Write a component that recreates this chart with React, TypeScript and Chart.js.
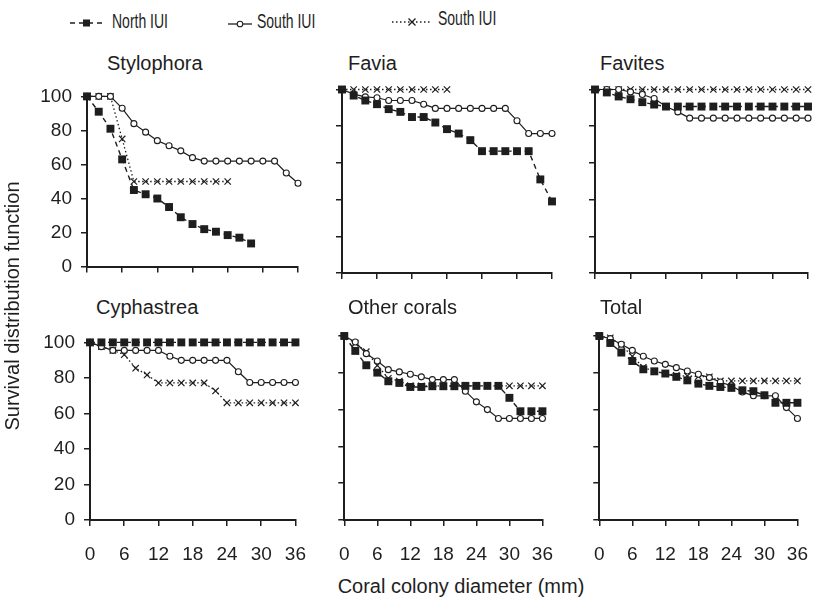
import React, { useEffect, useRef } from 'react';
import { Chart, registerables } from 'chart.js';

Chart.register(...registerables);

const FONT = "'Liberation Sans', Arial, Helvetica, sans-serif";
const INK = '#1e1e1e';

const diameters = [0, 2, 4, 6, 8, 10, 12, 14, 16, 18, 20, 22, 24, 26, 28, 30, 32, 34, 36];
const xTickValues = [0, 6, 12, 18, 24, 30, 36];
const yTickValues = [0, 20, 40, 60, 80, 100];

const seriesNames = ['North IUI', 'South IUI', 'South IUI'];

// Stylophora
const stylophoraNorth = [100, 91, 81, 63, 45, 42.5, 40, 35, 29, 25, 22, 20.5, 18.5, 17, 13.6];
const stylophoraSouth = [100, 100, 100, 93, 84, 79, 74, 71, 68, 64, 62, 62, 62, 62, 62, 62, 62, 55, 49];
const stylophoraSouthX = [100, 100, 100, 75, 50, 50, 50, 50, 50, 50, 50, 50, 50];

// Favia
const faviaNorth = [100, 96.7, 94, 92, 89.3, 87.8, 85, 85, 82, 78.4, 76, 72.4, 66.4, 66.4, 66.4, 66.4, 66.4, 51, 39];
const faviaSouth = [100, 97.5, 96, 95.5, 94, 94, 94, 92, 89.7, 89.7, 89.7, 89.7, 89.7, 89.7, 89.7, 83, 76, 76, 76];
const faviaSouthX = [100, 100, 100, 100, 100, 100, 100, 100, 100, 100];

// Favites
const favitesNorth = [100, 98.4, 96.2, 94.7, 93.1, 91.8, 90.7, 90.7, 90.7, 90.7, 90.7, 90.7, 90.7, 90.7, 90.7, 90.7, 90.7, 90.7, 90.7];
const favitesSouth = [100, 100, 100, 98.7, 97.3, 95.1, 90.7, 87.8, 84.4, 84.4, 84.4, 84.4, 84.4, 84.4, 84.4, 84.4, 84.4, 84.4, 84.4];
const favitesSouthX = [100, 100, 100, 100, 100, 100, 100, 100, 100, 100, 100, 100, 100, 100, 100, 100, 100, 100, 100];

// Cyphastrea
const cyphastreaNorth = [100, 100, 100, 100, 100, 100, 100, 100, 100, 100, 100, 100, 100, 100, 100, 100, 100, 100, 100];
const cyphastreaSouth = [100, 97.6, 95.5, 95.5, 95.5, 95.5, 95.5, 92.2, 89.9, 89.9, 89.9, 89.9, 89.9, 83.5, 77.4, 77.4, 77.4, 77.4, 77.4];
const cyphastreaSouthX = [100, 97.6, 95.5, 93.1, 85.5, 81.7, 77.2, 77.2, 77.2, 77.2, 77.2, 72.7, 66, 66, 66, 66, 66, 66, 66];

// Other corals
const otherNorth = [100, 91.9, 84.1, 80.1, 75.4, 74.5, 72.3, 72.3, 72.7, 72.7, 72.7, 72.9, 72.9, 72.9, 72.9, 66.4, 59.1, 59.1, 59.1];
const otherSouth = [100, 96.7, 90.4, 86.4, 81.7, 80.5, 79.2, 77.8, 76.3, 76.3, 76.3, 70, 64.2, 60, 55.2, 55.2, 55.2, 55.2, 55.2];
const otherSouthX = [100, 96, 91.5, 84, 77, 75.5, 73, 72.9, 72.9, 72.9, 72.9, 72.9, 72.9, 72.9, 72.9, 72.9, 72.9, 72.9, 72.9];

// Total
const totalNorth = [100, 96.2, 91, 86.4, 81.9, 80.8, 79.6, 77.8, 75.9, 74.1, 72.9, 72.3, 71.8, 70.5, 70, 67.8, 63.7, 63.7, 63.7];
const totalSouth = [100, 98.6, 95.5, 92.2, 89, 86.4, 84.6, 82.8, 81, 79.2, 77.4, 75, 72.9, 69.6, 67.5, 67.5, 67.5, 61.1, 55.2];
const totalSouthX = [100, 99, 95, 89, 83, 80.8, 79.6, 78.6, 78.2, 78, 77.8, 75.6, 75.6, 75.6, 75.6, 75.6, 75.6, 75.6, 75.6];

type PanelCfg = {
  title: string;
  north: number[];
  south: number[];
  southX: number[];
  left: number; top: number; right: number; bottom: number;
  showX: boolean; showY: boolean;
  titleX: number; titleY: number;
};

const panels: PanelCfg[] = [
  { title: 'Stylophora', north: stylophoraNorth, south: stylophoraSouth, southX: stylophoraSouthX, left: 87, top: 89.5, right: 298, bottom: 273, showX: false, showY: true, titleX: 107, titleY: 63 },
  { title: 'Favia', north: faviaNorth, south: faviaSouth, southX: faviaSouthX, left: 342, top: 89.5, right: 552, bottom: 273, showX: false, showY: false, titleX: 348, titleY: 63 },
  { title: 'Favites', north: favitesNorth, south: favitesSouth, southX: favitesSouthX, left: 595, top: 89.5, right: 808, bottom: 273, showX: false, showY: false, titleX: 600, titleY: 63 },
  { title: 'Cyphastrea', north: cyphastreaNorth, south: cyphastreaSouth, southX: cyphastreaSouthX, left: 90, top: 336, right: 307, bottom: 520, showX: true, showY: true, titleX: 96, titleY: 307 },
  { title: 'Other corals', north: otherNorth, south: otherSouth, southX: otherSouthX, left: 342, top: 336, right: 554, bottom: 520, showX: true, showY: false, titleX: 348, titleY: 307 },
  { title: 'Total', north: totalNorth, south: totalSouth, southX: totalSouthX, left: 597, top: 336, right: 809, bottom: 520, showX: true, showY: false, titleX: 600, titleY: 307 },
];

function toPoints(vals: number[]) {
  return vals.map((y, i) => ({ x: diameters[i], y }));
}

function Panel({ cfg }: { cfg: PanelCfg }) {
  const ref = useRef<HTMLCanvasElement>(null);
  const padL = cfg.showY ? 70 : 20;
  const padT = 14;
  const padR = 16;
  const padB = cfg.showX ? 52 : 14;
  const cLeft = Math.round(cfg.left - padL);
  const cTop = Math.round(cfg.top - padT);
  const width = Math.round(cfg.right + padR) - cLeft;
  const height = Math.round(cfg.bottom + padB) - cTop;
  const realPadL = cfg.left - cLeft;
  const realPadT = cfg.top - cTop;
  const realPadB = cTop + height - cfg.bottom;
  const realPadR = cLeft + width - cfg.right;

  useEffect(() => {
    if (!ref.current) return;
    const gridOpts = {
      display: true,
      drawOnChartArea: false,
      drawTicks: true,
      tickLength: 6,
      color: INK,
      lineWidth: 1.5,
    };
    const chart = new Chart(ref.current, {
      type: 'line',
      data: {
        datasets: [
          {
            label: seriesNames[0],
            data: toPoints(cfg.north),
            borderColor: INK,
            backgroundColor: INK,
            borderWidth: 1.4,
            borderDash: [5, 4],
            pointStyle: 'rect',
            pointRadius: 5.6,
            pointBorderWidth: 0,
            pointBackgroundColor: INK,
            tension: 0,
            clip: false,
          },
          {
            label: seriesNames[1],
            data: toPoints(cfg.south),
            borderColor: INK,
            backgroundColor: '#ffffff',
            borderWidth: 1.2,
            pointStyle: 'circle',
            pointRadius: 3,
            pointBorderWidth: 1.1,
            pointBackgroundColor: '#ffffff',
            tension: 0,
            clip: false,
          },
          {
            label: seriesNames[2],
            data: toPoints(cfg.southX),
            borderColor: INK,
            backgroundColor: INK,
            borderWidth: 1.3,
            borderDash: [1.5, 2.5],
            pointStyle: 'crossRot',
            pointRadius: 4.5,
            pointBorderWidth: 1.2,
            tension: 0,
            clip: false,
          },
        ],
      },
      options: {
        animation: false,
        responsive: false,
        maintainAspectRatio: false,
        events: [],
        layout: { padding: { top: realPadT, right: realPadR, left: 0, bottom: 0 } },
        plugins: { legend: { display: false }, tooltip: { enabled: false } },
        scales: {
          x: {
            type: 'linear',
            min: 0,
            max: 36,
            afterBuildTicks: (s: any) => { s.ticks = xTickValues.map((v) => ({ value: v })); },
            afterFit: (s: any) => { s.height = realPadB; },
            grid: gridOpts,
            border: { display: true, color: INK, width: 2 },
            ticks: {
              display: cfg.showX,
              padding: 17,
              color: INK,
              maxRotation: 0,
              autoSkip: false,
              font: { family: FONT, size: 19 },
            },
          },
          y: {
            type: 'linear',
            min: 0,
            max: 100,
            afterBuildTicks: (s: any) => { s.ticks = yTickValues.map((v) => ({ value: v })); },
            afterFit: (s: any) => { s.width = realPadL; },
            grid: gridOpts,
            border: { display: true, color: INK, width: 2 },
            ticks: {
              display: cfg.showY,
              padding: 9,
              color: INK,
              autoSkip: false,
              font: { family: FONT, size: 19 },
            },
          },
        },
      } as any,
    });
    return () => chart.destroy();
  }, []);

  return (
    <>
      <canvas
        ref={ref}
        width={width}
        height={height}
        style={{ position: 'absolute', left: cLeft, top: cTop, width, height }}
      />
      <div
        style={{
          position: 'absolute',
          left: cfg.titleX,
          top: cfg.titleY - 12,
          height: 24,
          lineHeight: '24px',
          fontFamily: FONT,
          fontSize: 20,
          color: INK,
          whiteSpace: 'nowrap',
        }}
      >
        {cfg.title}
      </div>
    </>
  );
}

function LegendItem({ kind, x, y, textX, textY, label }: { kind: number; x: number; y: number; textX: number; textY: number; label: string }) {
  let svg: React.ReactNode = null;
  if (kind === 0) {
    svg = (
      <svg width={36} height={14} style={{ position: 'absolute', left: x, top: y - 7 }}>
        <line x1={1} y1={7} x2={35} y2={7} stroke={INK} strokeWidth={1.5} strokeDasharray="5 4" />
        <rect x={14} y={3.5} width={7} height={7} fill={INK} />
      </svg>
    );
  } else if (kind === 1) {
    svg = (
      <svg width={24} height={14} style={{ position: 'absolute', left: x, top: y - 7 }}>
        <line x1={0} y1={7} x2={24} y2={7} stroke={INK} strokeWidth={1.3} />
        <circle cx={12} cy={7} r={2.8} fill="#fff" stroke={INK} strokeWidth={1.1} />
      </svg>
    );
  } else {
    svg = (
      <svg width={40} height={14} style={{ position: 'absolute', left: x, top: y - 7 }}>
        <line x1={0} y1={7} x2={40} y2={7} stroke={INK} strokeWidth={1.3} strokeDasharray="1.5 2.5" />
        <line x1={16.5} y1={3.5} x2={23.5} y2={10.5} stroke={INK} strokeWidth={1.2} />
        <line x1={16.5} y1={10.5} x2={23.5} y2={3.5} stroke={INK} strokeWidth={1.2} />
      </svg>
    );
  }
  return (
    <>
      {svg}
      <div
        style={{
          position: 'absolute',
          left: textX,
          top: textY - 12,
          height: 24,
          lineHeight: '24px',
          fontFamily: FONT,
          fontSize: 20,
          color: INK,
          whiteSpace: 'nowrap',
          transform: 'scaleX(0.7)',
          transformOrigin: 'left center',
        }}
      >
        {label}
      </div>
    </>
  );
}

export default function App() {
  return (
    <div
      style={{
        position: 'absolute',
        left: 0,
        top: 0,
        width: 827,
        height: 598,
        background: '#ffffff',
        overflow: 'hidden',
      }}
    >
      <LegendItem kind={0} x={69} y={23} textX={112} textY={21} label={seriesNames[0]} />
      <LegendItem kind={1} x={228} y={24} textX={257} textY={21} label={seriesNames[1]} />
      <LegendItem kind={2} x={392} y={22} textX={438} textY={18} label={seriesNames[2]} />
      {panels.map((p, i) => (
        <Panel key={i} cfg={p} />
      ))}
      <div
        style={{
          position: 'absolute',
          left: 12 - 200,
          top: 306 - 13,
          width: 400,
          height: 26,
          lineHeight: '26px',
          textAlign: 'center',
          fontFamily: FONT,
          fontSize: 20,
          color: INK,
          transform: 'rotate(-90deg)',
          transformOrigin: 'center center',
          whiteSpace: 'nowrap',
        }}
      >
        Survival distribution function
      </div>
      <div
        style={{
          position: 'absolute',
          left: 461 - 200,
          top: 586 - 13,
          width: 400,
          height: 26,
          lineHeight: '26px',
          textAlign: 'center',
          fontFamily: FONT,
          fontSize: 20,
          color: INK,
          whiteSpace: 'nowrap',
        }}
      >
        Coral colony diameter (mm)
      </div>
    </div>
  );
}
